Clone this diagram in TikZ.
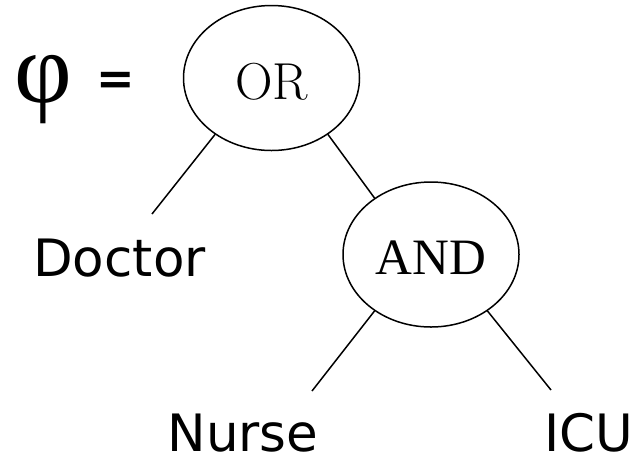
\documentclass[tikz,border=0pt]{standalone}
\usepackage{fontspec}
\usepackage{tikz}
\usetikzlibrary{shapes.geometric}
\newfontfamily\lblsans{DejaVu Sans}
\newfontfamily\lblbold{DejaVu Sans Bold}
\newfontfamily\lblserif{Liberation Serif}

\begin{document}
\begin{tikzpicture}[x=1pt, y=-1pt, line width=1.5pt,
    gate/.style={draw, ellipse, minimum width=176pt, minimum height=145pt,
      inner sep=0pt, text depth=0pt},
    leaf/.style={anchor=base, inner sep=0pt,
      font=\lblsans\fontsize{51.5}{60}\selectfont}]
  \useasboundingbox (0,0) rectangle (639,459);
  % formula name
  \node (phi) [anchor=base, inner sep=0pt, font=\lblserif\fontsize{100}{110}\selectfont] at (43,102) {φ};
  \node (eq) [anchor=base, inner sep=0pt, font=\lblbold\fontsize{46}{50}\selectfont] at (115.5,94) {=};
  % gates
  \node (or) [gate, text height=42pt, font=\fontsize{52}{60}\selectfont] at (271.5,78) {OR};
  \node (and) [gate, text height=39pt, font=\lblserif\fontsize{51}{60}\selectfont] at (431,254.5) {AND};
  % leaves
  \node (doc) [leaf] at (119.5,276) {Doctor};
  \node (nur) [leaf] at (243,451.5) {Nurse};
  \node (icu) [leaf] at (589,451.5) {ICU};
  \coordinate (d) at (152,214);
  \coordinate (n) at (312,391);
  \coordinate (i) at (551,390);
  \draw (or.-135) -- (d);
  \draw (or.-45) -- (and.135);
  \draw (and.-135) -- (n);
  \draw (and.-45) -- (i);
\end{tikzpicture}
\end{document}
